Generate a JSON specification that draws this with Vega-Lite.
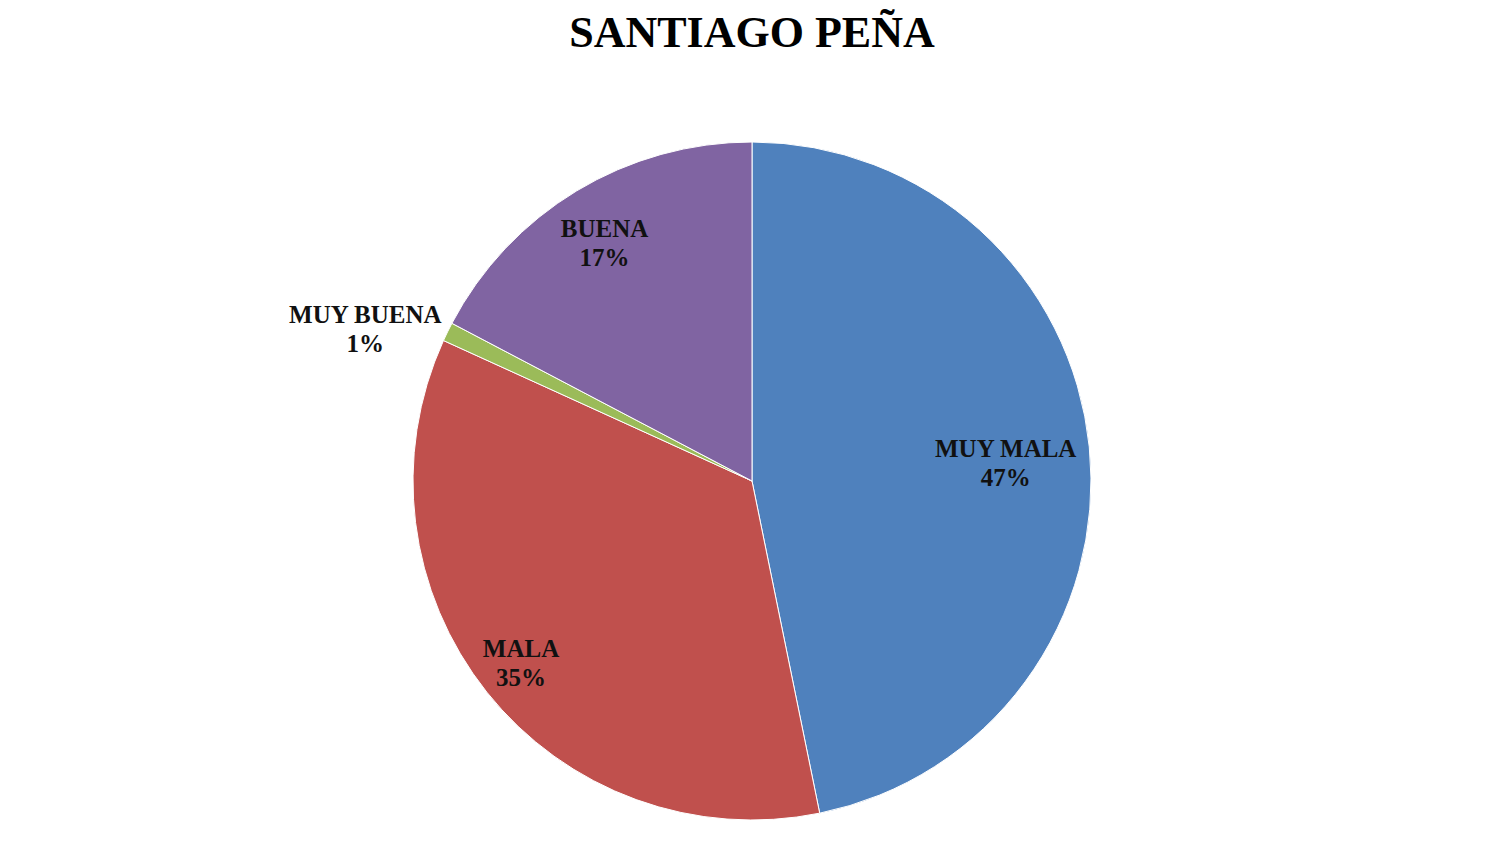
{
  "$schema": "https://vega.github.io/schema/vega-lite/v6.json",
  "autosize": {"type": "fit", "contains": "padding"},
  "width": 1500,
  "height": 864,
  "padding": {"top": 12, "bottom": 0, "left": 4, "right": 0},
  "background": "white",
  "title": {
    "text": "SANTIAGO PEÑA",
    "font": "Liberation Serif",
    "fontSize": 44,
    "fontWeight": "bold",
    "color": "#000000",
    "anchor": "middle",
    "offset": 42
  },
  "data": {
    "values": [
      {"cat": "MUY MALA", "v": 46.8, "o": 1},
      {"cat": "MALA", "v": 35.0, "o": 2},
      {"cat": "MUY BUENA", "v": 0.9, "o": 3},
      {"cat": "BUENA", "v": 17.3, "o": 4}
    ]
  },
  "transform": [
    {"calculate": "[datum.cat, format(datum.v, '.0f') + '%']", "as": "label"}
  ],
  "encoding": {
    "theta": {"field": "v", "type": "quantitative", "stack": true},
    "order": {"field": "o", "type": "quantitative"}
  },
  "layer": [
    {
      "mark": {"type": "arc", "outerRadius": 339, "stroke": "white", "strokeWidth": 1},
      "encoding": {
        "color": {
          "field": "cat",
          "type": "nominal",
          "scale": {
            "domain": ["MUY MALA", "MALA", "MUY BUENA", "BUENA"],
            "range": ["#4F81BD", "#C0504D", "#9BBB59", "#8064A2"]
          },
          "legend": null
        }
      }
    },
    {
      "mark": {
        "type": "text",
        "font": "Liberation Serif",
        "fontSize": 25,
        "fontWeight": "bold",
        "color": "#111111",
        "lineHeight": 29,
        "radius": {"expr": "datum.cat === 'MUY BUENA' ? 405 : datum.cat === 'MUY MALA' ? 255 : 285"},
        "dx": {"expr": "datum.cat === 'MUY BUENA' ? -23 : datum.cat === 'MALA' ? -8 : 0"},
        "dy": {"expr": "datum.cat === 'MUY BUENA' ? 12 : datum.cat === 'MALA' ? -9 : datum.cat === 'BUENA' ? -8 : -6"}
      },
      "encoding": {
        "text": {"field": "label"}
      }
    }
  ]
}
